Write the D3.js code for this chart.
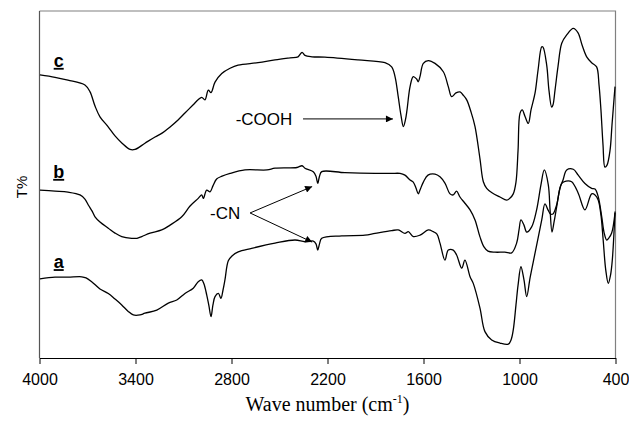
<!DOCTYPE html>
<html>
<head>
<meta charset="utf-8">
<script src="https://cdn.jsdelivr.net/npm/d3@7"></script>
<style>
  body { margin: 0; background: #fff; }
  svg { display: block; }
</style>
</head>
<body>
<div class="ftir-container"></div>
<script>
(function(){
    // 橫軸刻度 (wave number, cm-1)
    const xTicks = [4000, 3400, 2800, 2200, 1600, 1000, 400];

    // curve c (top)
    const waveC = [3997, 3903, 3822, 3716, 3684, 3653, 3622, 3572, 3528, 3484, 3434, 3403, 3341, 3278, 3234,
        3184, 3134, 3091, 3041, 3009, 2986, 2966, 2945, 2928, 2903, 2861, 2809, 2759, 2634, 2528, 2434, 2384,
        2359, 2341, 2297, 2216, 2009, 1841, 1799, 1778, 1758, 1741, 1726, 1713, 1703, 1684, 1664, 1643, 1633,
        1622, 1601, 1570, 1528, 1476, 1445, 1424, 1397, 1372, 1353, 1330, 1303, 1278, 1247, 1226, 1205, 1172,
        1122, 1080, 1059, 1039, 1022, 1009, 997, 983, 966, 945, 928, 903, 884, 861, 853, 830, 816, 799, 791,
        778, 759, 736, 705, 664, 634, 609, 580, 549, 518, 503, 491, 478, 466, 453, 434, 422, 403];
    const tC = [81.6, 80.9, 80.1, 78.7, 76.7, 72.6, 69.5, 66.7, 64.0, 61.9, 60.1, 60.1, 61.9, 63.7, 64.8,
        66.6, 68.6, 70.6, 72.9, 74.4, 75.1, 74.4, 77.2, 76.5, 79.5, 82.0, 83.5, 84.4, 85.1, 85.9, 86.5, 86.8,
        88.1, 87.2, 86.8, 86.7, 85.9, 85.1, 83.9, 81.1, 75.3, 70.0, 66.7, 68.6, 71.5, 78.2, 81.1, 80.4, 79.6,
        81.1, 84.9, 85.7, 84.9, 82.5, 78.2, 75.3, 76.4, 76.7, 75.8, 74.4, 70.9, 66.7, 57.4, 50.8, 48.9, 47.6,
        46.4, 45.5, 46.1, 47.3, 50.7, 59.9, 70.5, 71.5, 69.7, 67.6, 71.5, 76.3, 83.0, 89.7, 89.6, 84.4, 77.2,
        72.3, 72.9, 77.2, 84.1, 90.7, 93.1, 95.0, 93.7, 90.2, 86.8, 85.1, 83.9, 78.7, 71.5, 61.4, 55.0, 55.6,
        59.9, 67.1, 78.2];

    // curve b (middle)
    const waveB = [3997, 3903, 3822, 3747, 3716, 3695, 3672, 3653, 3622, 3570, 3528, 3486, 3424, 3391, 3361,
        3309, 3236, 3184, 3111, 3059, 3008, 2986, 2976, 2955, 2934, 2916, 2893, 2859, 2809, 2716, 2578, 2528,
        2391, 2359, 2341, 2289, 2272, 2261, 2250, 2236, 2091, 1903, 1799, 1747, 1716, 1684, 1664, 1647, 1633,
        1622, 1601, 1572, 1528, 1497, 1466, 1434, 1414, 1393, 1372, 1341, 1309, 1278, 1247, 1222, 1197, 1153,
        1091, 1049, 1018, 1003, 991, 972, 955, 924, 893, 866, 845, 820, 809, 797, 784, 768, 747, 728, 705,
        664, 633, 591, 549, 528, 508, 486, 472, 455, 441, 424, 403];
    const tB = [48.4, 48.1, 47.8, 47.0, 45.8, 44.1, 42.4, 40.7, 39.2, 37.4, 36.0, 35.0, 34.5, 34.5, 35.0,
        36.0, 36.9, 38.3, 40.7, 43.8, 46.0, 47.0, 46.0, 48.4, 47.9, 49.6, 51.6, 52.4, 53.2, 54.2, 54.2, 54.7,
        54.9, 55.4, 54.7, 53.7, 52.4, 50.3, 52.4, 53.7, 53.4, 53.2, 53.2, 53.2, 52.7, 51.3, 50.7, 49.0, 47.3,
        48.4, 50.7, 52.7, 53.0, 52.2, 50.4, 47.3, 47.0, 48.1, 46.4, 44.6, 42.7, 39.8, 34.9, 32.0, 30.8, 30.5,
        30.5, 30.3, 33.1, 36.9, 39.8, 38.3, 36.3, 37.8, 42.7, 49.9, 54.2, 49.9, 42.7, 36.3, 39.2, 43.5, 49.0,
        51.3, 54.2, 54.4, 52.7, 50.3, 48.9, 48.7, 46.5, 40.7, 36.3, 34.0, 34.6, 36.0, 41.8];

    // curve a (bottom)
    const waveA = [3997, 3903, 3822, 3736, 3709, 3674, 3622, 3570, 3528, 3486, 3447, 3414, 3372, 3341, 3267,
        3195, 3142, 3091, 3039, 3008, 2986, 2972, 2955, 2941, 2928, 2916, 2903, 2882, 2866, 2853, 2841, 2820,
        2797, 2758, 2674, 2528, 2403, 2341, 2289, 2272, 2261, 2250, 2236, 2111, 1966, 1903, 1799, 1758, 1716,
        1695, 1664, 1622, 1570, 1539, 1516, 1497, 1466, 1445, 1414, 1393, 1361, 1341, 1309, 1289, 1247, 1216,
        1174, 1122, 1070, 1053, 1039, 1022, 1009, 991, 972, 955, 934, 903, 861, 841, 822, 806, 791, 768, 736,
        709, 674, 633, 591, 549, 528, 508, 491, 477, 461, 445, 431, 420, 403];
    const tA = [22.8, 23.3, 23.3, 23.4, 23.1, 22.0, 19.9, 18.6, 17.0, 15.3, 13.5, 12.4, 12.4, 12.9, 13.8,
        15.8, 16.7, 18.6, 20.1, 22.0, 22.5, 21.3, 18.2, 15.0, 11.9, 15.3, 17.7, 18.6, 17.2, 19.6, 22.5, 28.0,
        29.4, 30.6, 31.6, 33.1, 34.0, 33.5, 33.7, 32.9, 31.1, 32.9, 34.5, 35.2, 35.4, 35.9, 36.7, 36.9, 35.9,
        36.4, 35.0, 35.4, 36.9, 36.4, 35.7, 33.1, 28.2, 31.1, 31.1, 29.7, 25.9, 28.2, 23.4, 21.5, 14.4, 7.6,
        5.2, 4.3, 4.0, 5.2, 8.1, 15.3, 21.0, 26.3, 22.5, 17.7, 23.1, 30.2, 39.8, 44.4, 42.7, 41.5, 41.5, 44.1,
        50.3, 51.0, 50.8, 47.5, 42.7, 47.3, 47.0, 45.5, 41.2, 34.0, 25.4, 21.5, 23.9, 28.2, 42.2];

    const seriesNames = ['a', 'b', 'c'];
    const labelPos = { a: 25.9, b: 51.9, c: 83.9 };   // label baselines in T% units
    const labelWave = 3880;

    const svg_width = 629;
    const svg_height = 422;
    const plot = { left: 39.5, right: 615.5, top: 11, bottom: 358 };

    const svg = d3.select('.ftir-container').append('svg')
        .attr('width', svg_width).attr('height', svg_height);

    // x 反向: 4000 在左
    const xScale = d3.scaleLinear().domain([4000, 400]).range([plot.left, plot.right]);
    const yScale = d3.scaleLinear().domain([0, 100]).range([plot.bottom, plot.top]);

    const zip = (w, t) => w.map((d, i) => ({ wave: d, t: t[i] }));
    const series = [
        { name: 'a', values: zip(waveA, tA) },
        { name: 'b', values: zip(waveB, tB) },
        { name: 'c', values: zip(waveC, tC) }
    ];

    // marker for arrows
    svg.append('defs').append('marker')
        .attr('id', 'arrow')
        .attr('viewBox', '0 0 10 10')
        .attr('refX', 10).attr('refY', 5)
        .attr('markerWidth', 9).attr('markerHeight', 7)
        .attr('markerUnits', 'userSpaceOnUse')
        .attr('orient', 'auto')
        .append('path')
        .attr('d', 'M0,0L10,5L0,10Z')
        .style('fill', '#000');

    // plot frame (top / right gray)
    svg.append('path')
        .attr('d', `M${plot.left},${plot.top}H${plot.right}V${plot.bottom}`)
        .style('fill', 'none').style('stroke', '#808080').style('stroke-width', 1.2);
    svg.append('line')
        .attr('x1', plot.left).attr('x2', plot.left)
        .attr('y1', plot.top).attr('y2', plot.bottom)
        .style('stroke', '#555').style('stroke-width', 1.2);

    // x axis
    const xAxis = d3.axisBottom(xScale).tickValues(xTicks)
        .tickFormat(d3.format('d'))
        .tickSizeInner(6).tickSizeOuter(0).tickPadding(10);
    const xg = svg.append('g').attr('class', 'x axis')
        .attr('transform', `translate(0,${plot.bottom})`)
        .call(xAxis);
    xg.select('.domain').style('stroke', '#000').style('stroke-width', 1.2);
    xg.selectAll('.tick line').style('stroke', '#000');
    xg.selectAll('.tick text')
        .style('font-family', 'Liberation Sans, Arial, sans-serif')
        .style('font-size', '16px').style('fill', '#000');

    // curves
    const lineGen = d3.line()
        .x(d => xScale(d.wave))
        .y(d => yScale(d.t))
        .curve(d3.curveCatmullRom.alpha(0.5));

    svg.append('g').attr('class', 'spectra')
        .selectAll('path').data(series).enter()
        .append('path')
        .attr('d', d => lineGen(d.values))
        .style('fill', 'none').style('stroke', '#000').style('stroke-width', 1.3)
        .style('stroke-linejoin', 'round');

    // series labels a b c
    svg.append('g').selectAll('text').data(seriesNames).enter()
        .append('text')
        .attr('x', xScale(labelWave))
        .attr('y', d => yScale(labelPos[d]))
        .attr('text-anchor', 'middle')
        .text(d => d)
        .style('font-family', 'Liberation Sans, Arial, sans-serif')
        .style('font-weight', 'bold').style('font-size', '18px')
        .style('text-decoration', 'underline');

    // -COOH annotation
    svg.append('text')
        .attr('x', xScale(2420)).attr('y', yScale(68.9))
        .attr('dy', '0.35em')
        .attr('text-anchor', 'end')
        .text('-COOH')
        .style('font-family', 'Liberation Sans, Arial, sans-serif').style('font-size', '17px');
    svg.append('line')
        .attr('x1', xScale(2353)).attr('y1', yScale(68.9))
        .attr('x2', xScale(1791)).attr('y2', yScale(68.9))
        .attr('marker-end', 'url(#arrow)')
        .style('stroke', '#000').style('stroke-width', 1);

    // -CN annotation
    svg.append('text')
        .attr('x', xScale(2745)).attr('y', yScale(41.8))
        .attr('dy', '0.35em')
        .attr('text-anchor', 'end')
        .text('-CN')
        .style('font-family', 'Liberation Sans, Arial, sans-serif').style('font-size', '17px');
    [49.4, 33.4].forEach(t => {
        svg.append('line')
            .attr('x1', xScale(2684)).attr('y1', yScale(41.8))
            .attr('x2', xScale(2296)).attr('y2', yScale(t))
            .attr('marker-end', 'url(#arrow)')
            .style('stroke', '#000').style('stroke-width', 1);
    });

    // axis titles
    const xTitle = svg.append('text')
        .attr('x', (plot.left + plot.right) / 2)
        .attr('y', 411)
        .attr('text-anchor', 'middle')
        .style('font-family', 'Liberation Serif, Times New Roman, serif')
        .style('font-size', '20px');
    xTitle.append('tspan').text('Wave number (cm');
    xTitle.append('tspan').text('-1').attr('dy', -8).style('font-size', '12px');
    xTitle.append('tspan').text(')').attr('dy', 8);

    svg.append('text')
        .attr('transform', `translate(22,187) rotate(-90)`)
        .attr('text-anchor', 'middle')
        .attr('dy', '0.35em')
        .text('T%')
        .style('font-family', 'Liberation Sans, Arial, sans-serif').style('font-size', '15px');
})();
</script>
</body>
</html>
